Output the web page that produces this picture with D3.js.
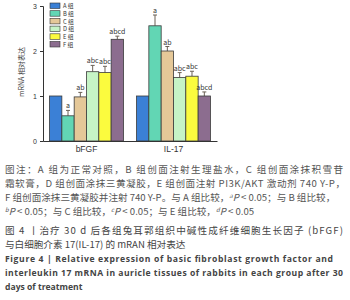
<!DOCTYPE html>
<html>
<head>
<meta charset="utf-8">
<script src="https://cdn.jsdelivr.net/npm/d3@7"></script>
<style>
  body { margin: 0; background: #fff; }
  svg { display: block; }
</style>
</head>
<body>
<div id="chart"></div>
<script>
// data
const genes = ['bFGF', 'IL-17']
const groups = ['A 组', 'B 组', 'C 组', 'D 组', 'E 组', 'F 组']
const bfgfVals = [1.0, 0.56, 0.98, 1.54, 1.52, 2.26]
const bfgfErr = [0, 0.12, 0.10, 0.14, 0.14, 0.07]
const il17Vals = [1.0, 2.56, 2.0, 1.41, 1.44, 1.0]
const il17Err = [0, 0.24, 0.10, 0.11, 0.11, 0.09]
const bfgfSig = ['', 'a', 'ab', 'abc', 'abc', 'abcd']
const il17Sig = ['', 'a', 'ab', 'abc', 'abc', 'abcd']
const yTicks = [0, 1, 2, 3]
const colors = ['#3b80d6', '#62d6b4', '#e5c898', '#c6f4c6', '#fbfb3e', '#8c6d8f']

const width = 350
const height = 300

const svg = d3.select('#chart').append('svg')
  .attr('width', width)
  .attr('height', height)
  .style('font-family', '"Noto Sans CJK SC", "Noto Sans", sans-serif')

const x0 = d3.scaleBand().domain(genes).range([43, 217]).paddingInner(0.15).paddingOuter(0.075)
const x1 = d3.scaleBand().domain(groups).range([0, x0.bandwidth()])
const y = d3.scaleLinear().domain([0, 3]).range([141, 6])

const rows = genes.map((g, gi) => groups.map((k, i) => ({
  gene: g,
  group: k,
  color: colors[i],
  value: gi === 0 ? bfgfVals[i] : il17Vals[i],
  err: gi === 0 ? bfgfErr[i] : il17Err[i],
  sig: gi === 0 ? bfgfSig[i] : il17Sig[i]
})))

const g = svg.selectAll('g.gene')
  .data(rows)
  .enter().append('g')
  .attr('class', 'gene')
  .attr('transform', (d, i) => 'translate(' + x0(genes[i]) + ',0)')

// error bars first, bars on top
g.selectAll('line.err')
  .data(d => d.filter(r => r.err > 0))
  .enter().append('line')
  .attr('x1', d => x1(d.group) + x1.bandwidth() / 2)
  .attr('x2', d => x1(d.group) + x1.bandwidth() / 2)
  .attr('y1', d => y(d.value))
  .attr('y2', d => y(d.value + d.err))
  .attr('stroke', '#6b6155')
  .attr('stroke-width', 1)
g.selectAll('line.cap')
  .data(d => d.filter(r => r.err > 0))
  .enter().append('line')
  .attr('x1', d => x1(d.group) + x1.bandwidth() / 2 - 2)
  .attr('x2', d => x1(d.group) + x1.bandwidth() / 2 + 2)
  .attr('y1', d => y(d.value + d.err))
  .attr('y2', d => y(d.value + d.err))
  .attr('stroke', '#6b6155')
  .attr('stroke-width', 1)

g.selectAll('rect')
  .data(d => d)
  .enter().append('rect')
  .attr('x', d => x1(d.group))
  .attr('y', d => y(d.value))
  .attr('width', x1.bandwidth())
  .attr('height', d => y(0) - y(d.value))
  .attr('fill', d => d.color)
  .attr('stroke', '#3a3a3a')
  .attr('stroke-width', 0.8)

g.selectAll('text.sig')
  .data(d => d.filter(r => r.sig))
  .enter().append('text')
  .attr('x', d => x1(d.group) + x1.bandwidth() / 2)
  .attr('y', d => y(d.value + d.err) - 2)
  .attr('text-anchor', 'middle')
  .attr('font-size', 7)
  .attr('fill', '#333')
  .text(d => d.sig)

// axes
const yAxis = svg.append('g')
  .attr('transform', 'translate(43,0)')
  .call(d3.axisLeft(y).tickValues(yTicks).tickSize(3).tickFormat(d3.format('d')))
yAxis.select('.domain').attr('stroke', '#333')
yAxis.selectAll('.tick line').attr('stroke', '#333')
yAxis.selectAll('.tick text').attr('font-size', 7).attr('fill', '#333')

const xAxis = svg.append('g')
  .attr('transform', 'translate(0,141)')
  .call(d3.axisBottom(x0).tickSize(0).tickPadding(5))
xAxis.select('.domain').attr('stroke', '#333')
xAxis.selectAll('.tick text').attr('font-size', 8.5).attr('fill', '#333')

svg.append('text')
  .attr('transform', 'translate(24,72) rotate(-90)')
  .attr('text-anchor', 'middle')
  .attr('font-size', 7)
  .attr('fill', '#333')
  .text('mRNA 相对表达')

// legend
const leg = svg.selectAll('g.leg')
  .data(groups)
  .enter().append('g')
  .attr('class', 'leg')
  .attr('transform', (d, i) => 'translate(50,' + (3 + i * 7.7) + ')')
leg.append('rect')
  .attr('width', 10).attr('height', 5.5)
  .attr('fill', (d, i) => colors[i])
  .attr('stroke', '#333').attr('stroke-width', 0.6)
leg.append('text')
  .attr('x', 13).attr('y', 5.3)
  .attr('font-size', 5.8)
  .attr('fill', '#333')
  .text(d => d)

// caption
const cap = svg.append('g').attr('fill', '#555').attr('font-size', 9.6)
const sup = (t, s) => { t.append('tspan').attr('font-size', 6).attr('dy', -3).attr('font-style', 'italic').text(s) }

cap.append('text').attr('x', 5).attr('y', 173).attr('textLength', 338).attr('lengthAdjust', 'spacing')
  .text('图注：A 组为正常对照，B 组创面注射生理盐水，C 组创面涂抹积雪苷')
cap.append('text').attr('x', 5).attr('y', 187).attr('textLength', 340).attr('lengthAdjust', 'spacing')
  .text('霜软膏，D 组创面涂抹三黄凝胶，E 组创面注射 PI3K/AKT 激动剂 740 Y-P，')
const l3 = cap.append('text').attr('x', 5).attr('y', 201)
l3.append('tspan').text('F 组创面涂抹三黄凝胶并注射 740 Y-P。与 A 组比较，')
sup(l3, 'a')
l3.append('tspan').attr('dy', 3).attr('font-style', 'italic').text('P')
l3.append('tspan').text(' < 0.05；与 B 组比较，')
const l4 = cap.append('text').attr('x', 5).attr('y', 215)
sup(l4, 'b')
l4.append('tspan').attr('dy', 3).attr('font-style', 'italic').text('P')
l4.append('tspan').text(' < 0.05；与 C 组比较，')
sup(l4, 'c')
l4.append('tspan').attr('dy', 3).attr('font-style', 'italic').text('P')
l4.append('tspan').text(' < 0.05；与 E 组比较，')
sup(l4, 'd')
l4.append('tspan').attr('dy', 3).attr('font-style', 'italic').text('P')
l4.append('tspan').text(' < 0.05')

cap.append('text').attr('x', 5).attr('y', 234).attr('textLength', 338).attr('lengthAdjust', 'spacing')
  .attr('fill', '#444')
  .text('图 4 丨治疗 30 d 后各组兔耳郭组织中碱性成纤维细胞生长因子 (bFGF)')
cap.append('text').attr('x', 5).attr('y', 248).attr('fill', '#444')
  .text('与白细胞介素 17(IL-17) 的 mRAN 相对表达')

const en = svg.append('g').attr('fill', '#444').attr('font-size', 8.6).attr('font-weight', 'bold')
  .style('font-family', '"Open Sans", "Noto Sans", sans-serif')
en.append('text').attr('x', 5).attr('y', 262).attr('textLength', 328).attr('lengthAdjust', 'spacing')
  .text('Figure 4  |  Relative expression of basic fibroblast growth factor and')
en.append('text').attr('x', 5).attr('y', 276).attr('textLength', 338).attr('lengthAdjust', 'spacing')
  .text('interleukin 17 mRNA in auricle tissues of rabbits in each group after 30')
en.append('text').attr('x', 5).attr('y', 290)
  .text('days of treatment')
</script>
</body>
</html>
